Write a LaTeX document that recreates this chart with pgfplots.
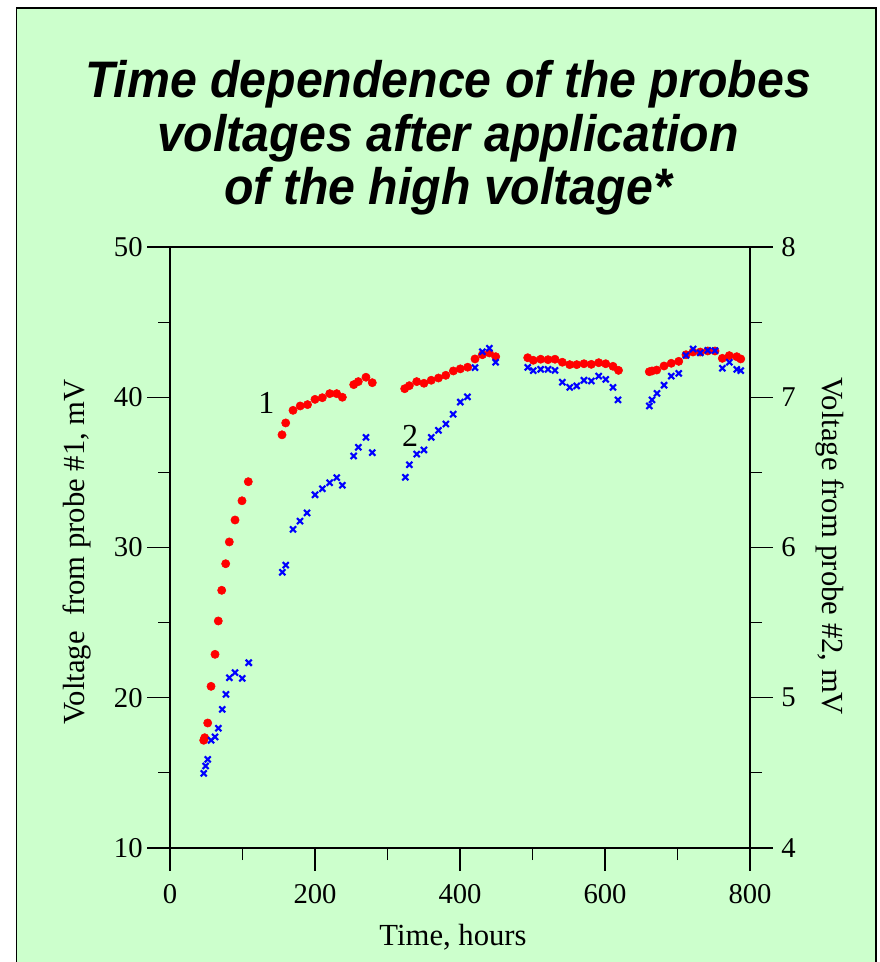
\documentclass[border=0pt]{standalone}
\usepackage{fontspec}
\setmainfont{Liberation Serif}
\newfontfamily\titlefont[FakeStretch=0.94]{Liberation Sans}
\usepackage{pgfplots}
\pgfplotsset{compat=1.18}
\definecolor{bg}{HTML}{CCFFCC}
\definecolor{pred}{HTML}{FF0000}
\definecolor{pblue}{HTML}{0000FF}

\pgfplotstableread{
t v
46.5 17.17
47.9 17.34
52.0 18.32
56.6 20.76
62.1 22.89
66.6 25.11
71.3 27.15
76.8 28.92
81.8 30.37
89.7 31.83
99.3 33.11
108.0 34.38
154.5 37.50
159.6 38.29
169.7 39.13
179.6 39.42
189.7 39.51
200.0 39.86
210.1 39.97
220.3 40.24
229.9 40.24
237.7 40.00
253.4 40.84
259.7 41.04
270.3 41.33
279.0 40.97
323.7 40.57
330.1 40.77
340.3 41.04
350.3 40.93
360.3 41.13
370.3 41.28
380.4 41.46
390.8 41.75
400.4 41.89
410.6 42.00
420.7 42.55
430.8 42.83
440.4 42.95
449.2 42.70
493.4 42.63
501.1 42.46
511.3 42.53
521.4 42.50
531.0 42.53
541.1 42.33
551.3 42.17
561.0 42.17
571.0 42.23
581.1 42.19
591.3 42.30
601.0 42.23
611.0 42.06
618.6 41.79
661.1 41.70
664.8 41.75
671.3 41.81
681.4 42.08
691.4 42.26
701.7 42.39
711.7 42.83
721.4 43.01
731.4 43.01
741.7 43.08
751.7 43.08
761.8 42.59
771.4 42.77
781.7 42.70
787.2 42.55
}\probeone

\pgfplotstableread{
t v
46.5 4.497
49.2 4.546
52.0 4.590
56.6 4.717
62.1 4.739
66.6 4.797
72.1 4.923
77.2 5.023
81.8 5.133
89.7 5.167
99.7 5.129
108.6 5.233
154.9 5.835
159.6 5.883
169.7 6.121
179.3 6.176
189.0 6.230
200.0 6.351
210.1 6.391
220.3 6.431
229.9 6.465
237.7 6.414
253.4 6.609
259.7 6.667
270.3 6.733
279.0 6.631
324.6 6.467
330.1 6.551
340.3 6.622
350.3 6.649
360.4 6.733
370.3 6.780
380.4 6.822
390.6 6.887
400.4 6.968
410.3 7.003
420.7 7.197
430.8 7.303
440.4 7.326
449.2 7.233
493.4 7.199
501.1 7.177
511.3 7.186
521.4 7.186
531.0 7.179
541.1 7.100
551.3 7.066
561.0 7.075
571.0 7.113
581.1 7.108
591.3 7.141
601.0 7.119
611.0 7.066
617.9 6.982
661.1 6.942
664.8 6.982
671.7 7.026
681.4 7.080
691.4 7.141
701.7 7.159
711.7 7.279
721.4 7.321
731.4 7.295
741.7 7.312
751.7 7.310
761.8 7.193
771.4 7.233
781.7 7.186
787.2 7.177
}\probetwo

\begin{document}
\begin{tikzpicture}
\useasboundingbox (0,0) rectangle (660pt,721.5pt);
\fill[white] (0,0) rectangle (660pt,721.5pt);
\fill[bg] (12.5pt,0) rectangle (657pt,715.5pt);
\draw[line width=1.2pt] (12.5pt,-2pt) -- (12.5pt,715.5pt) -- (657pt,715.5pt) -- (657pt,-2pt);

\node[font=\titlefont\bfseries\itshape\fontsize{38.5pt}{40pt}\selectfont, anchor=base] at (336pt,648pt) {Time dependence of the probes};
\node[font=\titlefont\bfseries\itshape\fontsize{38.5pt}{40pt}\selectfont, anchor=base] at (336pt,607.5pt) {voltages after application};
\node[font=\titlefont\bfseries\itshape\fontsize{38.5pt}{40pt}\selectfont, anchor=base] at (336pt,567.75pt) {of the high voltage*};

\begin{axis}[
  at={(127.5pt,85.5pt)}, anchor=south west,
  scale only axis, width=435pt, height=450.75pt,
  xmin=0, xmax=800, ymin=10, ymax=50,
  xtick={0,200,400,600,800}, ytick={10,20,30,40,50},
  minor x tick num=1, minor y tick num=1,
  xtick pos=bottom, ytick pos=left,
  tick align=outside,
  major tick length=17pt, minor tick length=9pt,
  tick style={black, line width=0.9pt},
  axis line style={line width=1.1pt},
  tick label style={font=\fontsize{21.5pt}{21.5pt}\selectfont},
  xticklabel style={yshift=-7pt},
  /pgf/number format/assume math mode=true,
  xlabel={Time, hours},
  ylabel={Voltage\ \ from probe \#1, mV},
  label style={font=\fontsize{23pt}{23pt}\selectfont},
  xlabel style={at={(axis description cs:0.488,-0.1614)}, anchor=base},
  ylabel style={at={(axis description cs:-0.16,0.493)}, anchor=center},
  clip=false,
]
\addplot[only marks, mark=*, mark size=3.1pt, color=pred, mark options={fill=pred, draw=pred}] table[x=t, y=v] {\probeone};
\node[font=\fontsize{24pt}{24pt}\selectfont] at (axis cs:132.8,39.6) {1};
\node[font=\fontsize{24pt}{24pt}\selectfont] at (axis cs:331.3,37.45) {2};
\end{axis}

\begin{axis}[
  at={(127.5pt,85.5pt)}, anchor=south west,
  scale only axis, width=435pt, height=450.75pt,
  xmin=0, xmax=800, ymin=4, ymax=8,
  axis x line=none, axis y line*=right,
  ytick={4,5,6,7,8}, minor y tick num=1,
  tick align=outside,
  major tick length=17pt, minor tick length=9pt,
  tick style={black, line width=0.9pt},
  axis line style={line width=1.1pt},
  tick label style={font=\fontsize{21.5pt}{21.5pt}\selectfont},
  yticklabel style={xshift=3pt},
  /pgf/number format/assume math mode=true,
  ylabel={Voltage from probe \#2, mV},
  label style={font=\fontsize{23pt}{23pt}\selectfont},
  ylabel style={at={(axis description cs:1.138,0.502)}, anchor=center, rotate=180},
  clip=false,
]
\addplot[only marks, mark=x, mark size=3.2pt, color=pblue, mark options={line width=1.6pt}] table[x=t, y=v] {\probetwo};
\end{axis}
\end{tikzpicture}
\end{document}
